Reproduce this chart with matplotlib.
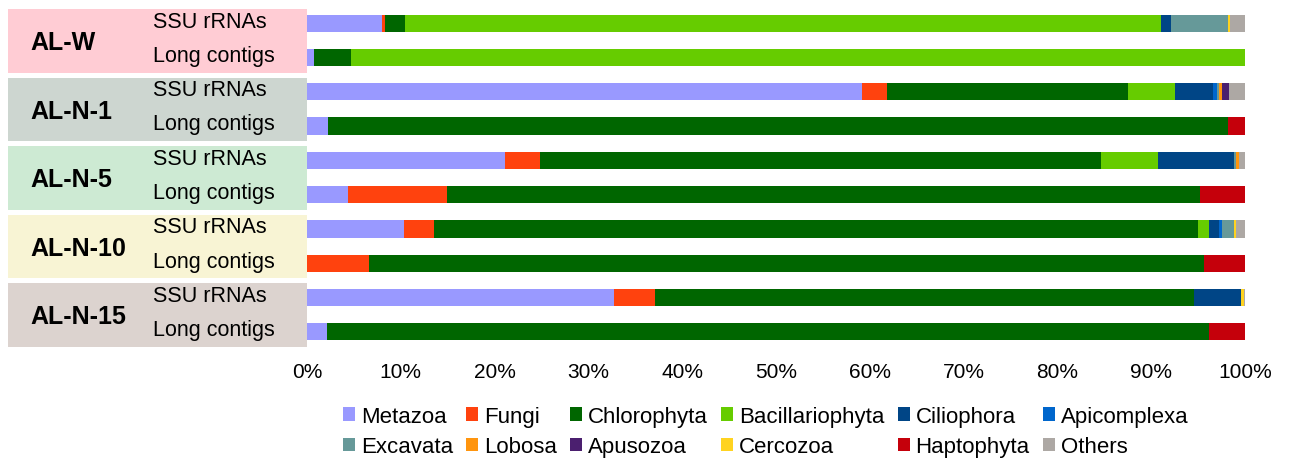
import matplotlib
matplotlib.use("Agg")
import matplotlib.pyplot as plt
from matplotlib.patches import Rectangle
from matplotlib.transforms import blended_transform_factory
import numpy as np

plt.rcParams['font.family'] = ['Liberation Sans', 'DejaVu Sans']

groups = ["AL-W", "AL-N-1", "AL-N-5", "AL-N-10", "AL-N-15"]
subrows = ["SSU rRNAs", "Long contigs"]
group_colors = ["#FFCCD4", "#CDD6D0", "#CDEAD3", "#F8F4D4", "#DCD3CF"]

categories = ["Metazoa", "Fungi", "Chlorophyta", "Bacillariophyta", "Ciliophora",
              "Apicomplexa", "Excavata", "Lobosa", "Apusozoa", "Cercozoa",
              "Haptophyta", "Others"]
cat_colors = ["#9999FF", "#FF420E", "#006600", "#66CC00", "#004586",
              "#0066CC", "#669999", "#FF950E", "#4B1F6F", "#FFD320",
              "#C5000B", "#ADA8A4"]

# rows top->bottom: AL-W SSU, AL-W long, AL-N-1 SSU, AL-N-1 long, ...
metazoa         = [8.0, 0.75, 59.2, 2.2, 21.1, 4.4, 10.3, 0.0, 32.7, 2.1]
fungi           = [0.3, 0.0, 2.6, 0.0, 3.7, 10.5, 3.2, 6.6, 4.4, 0.0]
chlorophyta     = [2.2, 3.95, 25.7, 96.0, 59.8, 80.3, 81.5, 89.0, 57.5, 94.1]
bacillariophyta = [80.5, 95.3, 5.0, 0.0, 6.1, 0.0, 1.2, 0.0, 0.0, 0.0]
ciliophora      = [1.1, 0.0, 4.1, 0.0, 8.1, 0.0, 1.0, 0.0, 5.0, 0.0]
apicomplexa     = [0.0, 0.0, 0.4, 0.0, 0.0, 0.0, 0.4, 0.0, 0.0, 0.0]
excavata        = [6.1, 0.0, 0.2, 0.0, 0.2, 0.0, 1.2, 0.0, 0.0, 0.0]
lobosa          = [0.0, 0.0, 0.4, 0.0, 0.35, 0.0, 0.0, 0.0, 0.0, 0.0]
apusozoa        = [0.0, 0.0, 0.7, 0.0, 0.0, 0.0, 0.0, 0.0, 0.0, 0.0]
cercozoa        = [0.25, 0.0, 0.0, 0.0, 0.0, 0.0, 0.2, 0.0, 0.25, 0.0]
haptophyta      = [0.0, 0.0, 0.0, 1.8, 0.0, 4.8, 0.0, 4.4, 0.0, 3.8]
others          = [1.55, 0.0, 1.7, 0.0, 0.65, 0.0, 1.0, 0.0, 0.15, 0.0]

series = [metazoa, fungi, chlorophyta, bacillariophyta, ciliophora, apicomplexa,
          excavata, lobosa, apusozoa, cercozoa, haptophyta, others]

W, H = 1290, 460
fig = plt.figure(figsize=(W / 100, H / 100), dpi=100)
ax = fig.add_axes([307 / W, 1 - 350 / H, (1245 - 307) / W, 343 / H])

n = len(metazoa)
y = np.arange(n)
left = np.zeros(n)
handles = []
for name, vals, col in zip(categories, series, cat_colors):
    vals = np.array(vals)
    b = ax.barh(y, vals, left=left, height=0.5, color=col, label=name,
                edgecolor='none')
    handles.append(b)
    left += vals

ax.set_xlim(0, 100)
ax.set_ylim(n - 0.5, -0.5)
ax.set_xticks(np.arange(0, 101, 10))
ax.set_xticklabels([f"{v}%" for v in range(0, 101, 10)], fontsize=15)
ax.tick_params(axis='x', length=0, pad=9)
ax.set_yticks([])
for s in ax.spines.values():
    s.set_visible(False)

trans = blended_transform_factory(fig.transFigure, ax.transData)
for g, (name, gc) in enumerate(zip(groups, group_colors)):
    y0 = 2 * g - 0.41
    y1 = 2 * g + 1.44
    r = Rectangle((8 / W, y0), (307 - 8) / W, y1 - y0, transform=trans,
                  facecolor=gc, edgecolor='none', clip_on=False, zorder=0)
    fig.add_artist(r)
    fig.text(30 / W, 2 * g + 0.55, name, transform=trans, fontsize=18,
             fontweight='bold', va='center', ha='left')
    for k, sub in enumerate(subrows):
        fig.text(153 / W, 2 * g + k - 0.06, sub, transform=trans, fontsize=15.5,
                 va='center', ha='left')

# legend laid out row-wise (matplotlib fills column-major)
ncol = 6
order = []
for c in range(ncol):
    order += [c, c + ncol]
fig.legend(handles=[handles[i] for i in order],
           labels=[categories[i] for i in order], ncol=ncol, loc='upper left',
           bbox_to_anchor=(343 / W, 1 - 407 / H), frameon=False, fontsize=16,
           handlelength=0.55, handleheight=0.55, handletextpad=0.25,
           columnspacing=0.6, labelspacing=0.42, borderpad=0, borderaxespad=0)

fig.savefig("out.png", dpi=100, facecolor='white')
